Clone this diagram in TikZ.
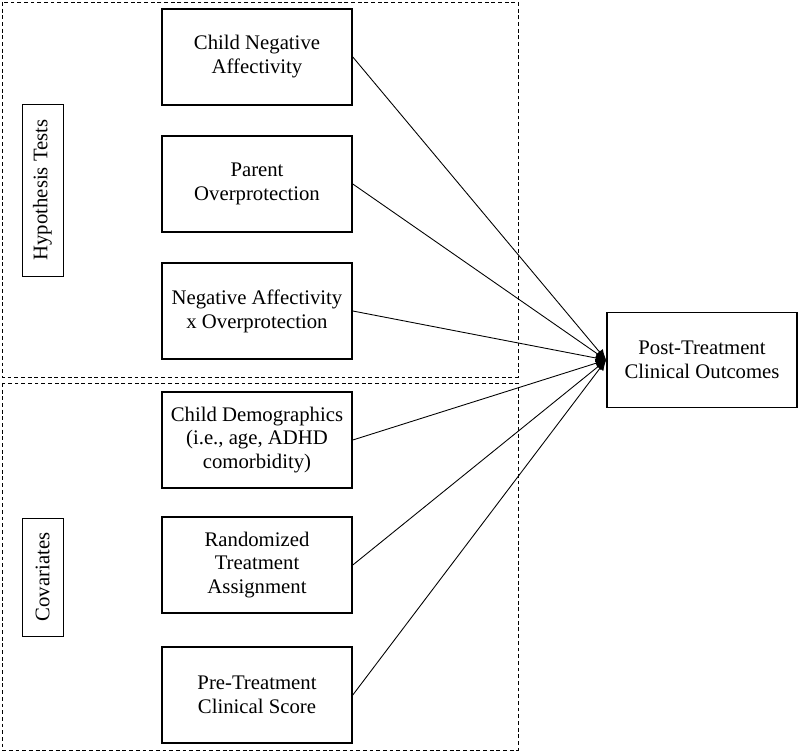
\documentclass[tikz,border=0pt]{standalone}
\usepackage{fontspec}
\setmainfont{Liberation Serif}
\usetikzlibrary{arrows.meta}

\tikzset{
    varbox/.style={draw, line width=0.9pt, minimum width=3.8cm, minimum height=1.92cm, align=center},
    groupbox/.style={draw, line width=0.5pt, dash pattern=on 2.2pt off 1.6pt},
    grouplabel/.style={draw, line width=0.5pt, rotate=90, minimum height=0.82cm, inner sep=0pt},
    effect/.style={line width=0.5pt, -{Latex[length=6pt,width=5pt]}}
}

\begin{document}
\begin{tikzpicture}
    \fontsize{11.8}{13.6}\selectfont
    \useasboundingbox (0,0) rectangle (16,15.04);

    % groups
    \draw[groupbox] (0.04,15.0) rectangle (10.36,7.5);
    \draw[groupbox] (0.04,7.38) rectangle (10.36,0.04);
    \node[grouplabel, minimum width=3.44cm] (hyp) at (0.85,11.24) {Hypothesis Tests};
    \node[grouplabel, minimum width=2.36cm] (cov) at (0.85,3.5) {Covariates};

    % predictors
    \node[varbox] (negaff) at (5.14,13.9) {Child Negative\\Affectivity};
    \node[varbox] (overprot) at (5.14,11.36) {Parent\\Overprotection};
    \node[varbox] (inter) at (5.14,8.82) {Negative Affectivity\\x Overprotection};
    \node[varbox] (demo) at (5.14,6.24) {Child Demographics\\(i.e., age, ADHD\\comorbidity)};
    \node[varbox] (rand) at (5.14,3.74) {Randomized\\Treatment\\Assignment};
    \node[varbox] (pretx) at (5.14,1.14) {Pre-Treatment\\Clinical Score};

    % outcome
    \node[varbox, minimum height=1.9cm] (posttx) at (14.04,7.84) {Post-Treatment\\Clinical Outcomes};

    \foreach \src in {negaff,overprot,inter,demo,rand,pretx}
        \draw[effect] (\src.east) -- (posttx.west);
\end{tikzpicture}
\end{document}
